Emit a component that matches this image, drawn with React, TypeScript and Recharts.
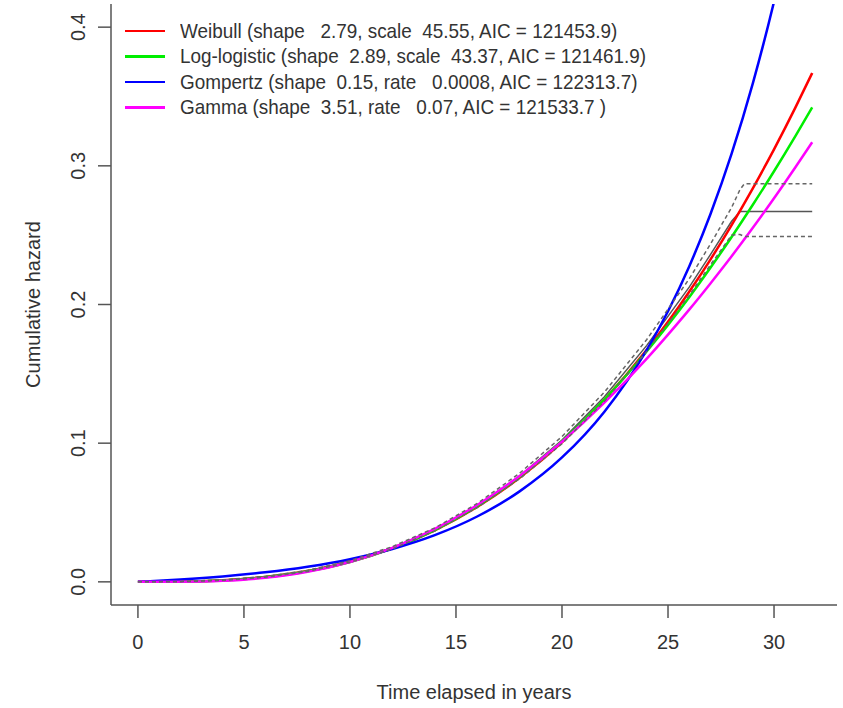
import React from 'react';
import { LineChart, Line, XAxis, YAxis, Legend, Label } from 'recharts';

// fitted curves
const years = [0, 2, 4, 6, 8, 10, 12, 14, 16, 18, 20, 22, 24, 25, 26, 27, 28, 29, 30, 31, 31.8];
const weibull = [0, 0.00016, 0.00113, 0.00349, 0.0078, 0.01454, 0.0242, 0.0372, 0.054, 0.075, 0.1006, 0.1313, 0.1674, 0.1875, 0.2092, 0.2324, 0.2573, 0.2838, 0.3119, 0.3418, 0.3669];
const logLogistic = [0, 0.00014, 0.00102, 0.00329, 0.00757, 0.01431, 0.02411, 0.03738, 0.05451, 0.07578, 0.1014, 0.1315, 0.1663, 0.1853, 0.2053, 0.2265, 0.2487, 0.2719, 0.2961, 0.3213, 0.3421];
const gompertz = [0, 0.00164, 0.00386, 0.00686, 0.0109, 0.01636, 0.02373, 0.03368, 0.04711, 0.06524, 0.0897, 0.12273, 0.16731, 0.19515, 0.22749, 0.26507, 0.30872, 0.35945, 0.41838, 0.48684, 0.5495];
const gamma = [0, 0.00008, 0.00078, 0.00292, 0.0072, 0.01427, 0.02449, 0.03814, 0.05541, 0.07635, 0.101, 0.1292, 0.161, 0.1783, 0.1963, 0.2152, 0.2348, 0.2553, 0.2766, 0.2988, 0.317];

// nonparametric estimate + confidence band
const kmYears = [0, 2, 4, 6, 8, 10, 12, 14, 16, 18, 20, 22, 24, 26, 27, 28, 28.4, 28.6, 31.8];
const kmEstimate = [0, 0.0002, 0.0012, 0.0036, 0.0079, 0.0147, 0.0246, 0.0378, 0.055, 0.0763, 0.1022, 0.1335, 0.1705, 0.2125, 0.236, 0.26, 0.267, 0.267, 0.267];
const kmUpper = [0, 0.0003, 0.0014, 0.0039, 0.0083, 0.0153, 0.0254, 0.0389, 0.0565, 0.0783, 0.1048, 0.1368, 0.1748, 0.2185, 0.2435, 0.27, 0.283, 0.287, 0.287];
const kmLower = [0, 0.0001, 0.001, 0.0033, 0.0075, 0.0141, 0.0238, 0.0367, 0.0535, 0.0743, 0.0996, 0.1302, 0.1662, 0.2065, 0.2285, 0.25, 0.2505, 0.249, 0.249];

const legendLabels = [
  'Weibull (shape   2.79, scale  45.55, AIC = 121453.9)',
  'Log-logistic (shape  2.89, scale  43.37, AIC = 121461.9)',
  'Gompertz (shape  0.15, rate   0.0008, AIC = 122313.7)',
  'Gamma (shape  3.51, rate   0.07, AIC = 121533.7 )',
];
const colors = ['#ff0000', '#00ee00', '#0000ff', '#ff00ff'];
const xTicks = [0, 5, 10, 15, 20, 25, 30];
const yTicks = [0, 0.1, 0.2, 0.3, 0.4];

const fits = years.map((t, i) => ({
  t,
  weibull: weibull[i],
  logLogistic: logLogistic[i],
  gompertz: gompertz[i],
  gamma: gamma[i],
}));
const km = kmYears.map((t, i) => ({ t, est: kmEstimate[i], upper: kmUpper[i], lower: kmLower[i] }));

const FONT = '"Liberation Sans", Arial, sans-serif';
const AXIS = '#555';
const TEXT = '#333';

const YTick = ({ x, y, payload }: any) => (
  <g transform={`translate(${x - 20},${y})`}>
    <text transform='rotate(-90)' textAnchor='middle' dominantBaseline='central' fontSize={20} fill={TEXT} fontFamily={FONT}>
      {payload.value.toFixed(1)}
    </text>
  </g>
);

const LegendBox = () => (
  <div style={{ fontFamily: FONT, fontSize: 21, color: TEXT }}>
    {legendLabels.map((label, i) => (
      <div key={label} style={{ display: 'flex', alignItems: 'center', height: 25.5, whiteSpace: 'pre' }}>
        <div style={{ width: 40, height: 2.5, backgroundColor: colors[i], marginRight: 15, flexShrink: 0 }} />
        <span style={{ display: 'inline-block', transform: 'scaleX(0.9)', transformOrigin: 'left center' }}>{label}</span>
      </div>
    ))}
  </div>
);

export default function App() {
  const series = ['weibull', 'logLogistic', 'gompertz', 'gamma'];
  return (
    <div style={{ position: 'absolute', left: 0, top: 0, background: '#fff' }}>
      <LineChart width={843} height={708} data={fits} margin={{ top: 4, right: 6, left: 0, bottom: 0 }}>
        <XAxis dataKey='t' type='number' domain={[-1.27, 32.97]} ticks={xTicks} allowDataOverflow
          height={103} tickSize={13} tickMargin={17} stroke={AXIS} strokeWidth={1.5}
          tick={{ fontSize: 20, fill: TEXT, fontFamily: FONT }}>
          <Label content={({ viewBox }: any) => (
            <text x={viewBox.x + viewBox.width / 2} y={viewBox.y + 87} textAnchor='middle' dominantBaseline='central'
              fontSize={20} fill={TEXT} fontFamily={FONT}>Time elapsed in years</text>
          )} />
        </XAxis>
        <XAxis xAxisId='top' orientation='top' type='number' domain={[-1.27, 32.97]} height={0} tick={false} tickLine={false}
          stroke={AXIS} strokeWidth={1.5} />
        <YAxis type='number' domain={[-0.0167, 0.4167]} ticks={yTicks} allowDataOverflow width={111}
          tickSize={13} tickMargin={0} stroke={AXIS} strokeWidth={1.5} tick={<YTick />}>
          <Label content={({ viewBox }: any) => (
            <text transform={`translate(33,${viewBox.y + viewBox.height / 2}) rotate(-90)`} textAnchor='middle'
              dominantBaseline='central' fontSize={20} fill={TEXT} fontFamily={FONT}>Cumulative hazard</text>
          )} />
        </YAxis>
        <YAxis yAxisId='right' orientation='right' type='number' domain={[-0.0167, 0.4167]} width={0} tick={false} tickLine={false}
          stroke={AXIS} strokeWidth={1.5} />
        <Legend layout='horizontal' verticalAlign='middle' align='center' content={<LegendBox />}
          wrapperStyle={{ position: 'absolute', left: 125, top: 18, width: 'auto' }} />
        <Line data={km} dataKey='est' type='linear' stroke='#555' strokeWidth={1.5} dot={false} isAnimationActive={false} legendType='none' />
        {series.map((key, i) => (
          <Line key={key} dataKey={key} type='monotone' stroke={colors[i]} strokeWidth={2.5} dot={false} isAnimationActive={false} />
        ))}
        <Line data={km} dataKey='upper' type='linear' stroke='#666' strokeWidth={1.5} strokeDasharray='4 3' dot={false} isAnimationActive={false} legendType='none' />
        <Line data={km} dataKey='lower' type='linear' stroke='#666' strokeWidth={1.5} strokeDasharray='4 3' dot={false} isAnimationActive={false} legendType='none' />
      </LineChart>
    </div>
  );
}
